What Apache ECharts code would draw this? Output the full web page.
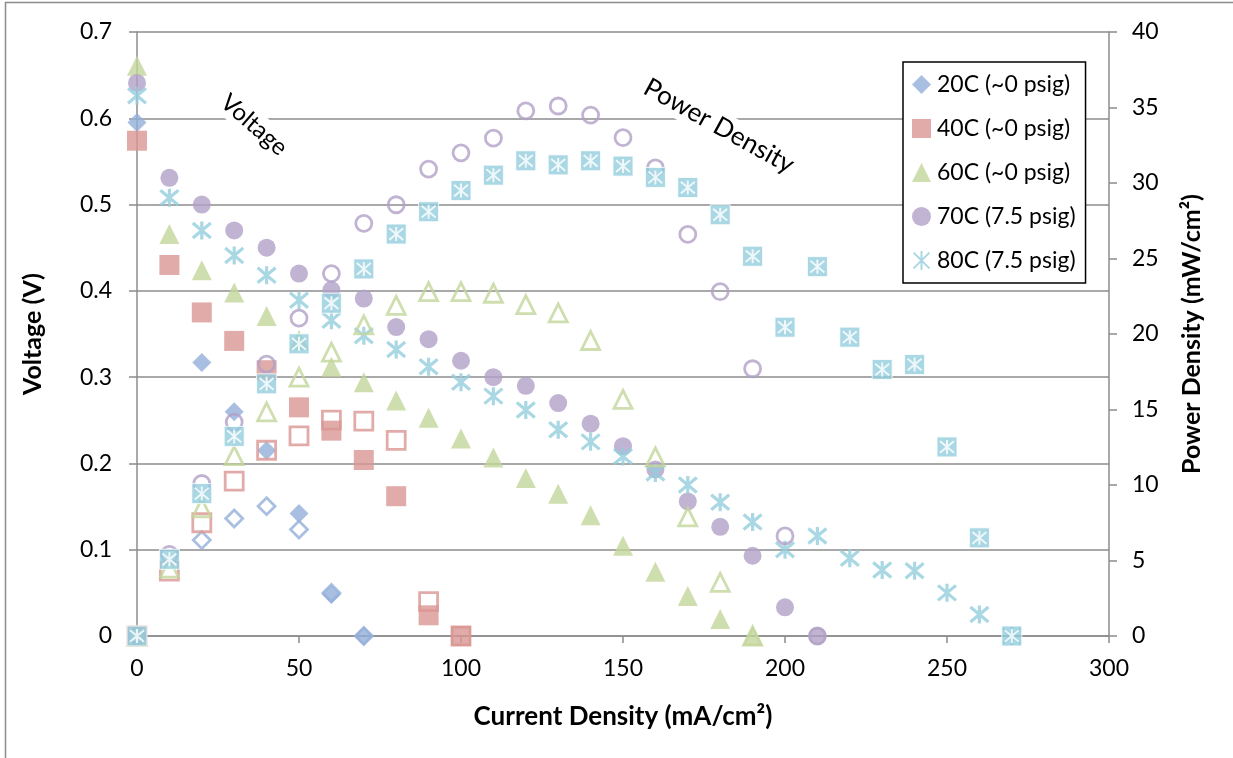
<!DOCTYPE html>
<html>
<head>
<meta charset="utf-8">
<script src="https://cdn.jsdelivr.net/npm/echarts@6/dist/echarts.min.js"></script>
<style>
html,body{margin:0;padding:0;background:#fff;}
#c{width:1233px;height:758px;}
</style>
</head>
<body>
<div id="c"></div>
<script>
// ---- data ----
var names = ['20C (~0 psig)', '40C (~0 psig)', '60C (~0 psig)', '70C (7.5 psig)', '80C (7.5 psig)'];

var current20 = [0, 20, 30, 40, 50, 60, 70];
var voltage20 = [0.595, 0.317, 0.260, 0.215, 0.142, 0.048, 0];
var power20 = [0, 6.35, 7.78, 8.6, 7.05, 2.85, 0];

var current40 = [0, 10, 20, 30, 40, 50, 60, 70, 80, 90, 100];
var voltage40 = [0.574, 0.430, 0.375, 0.342, 0.308, 0.265, 0.238, 0.204, 0.162, 0.024, 0];
var power40 = [0, 4.3, 7.5, 10.26, 12.3, 13.25, 14.3, 14.23, 12.96, 2.27, 0];

var current60 = [0, 10, 20, 30, 40, 50, 60, 70, 80, 90, 100, 110, 120, 130, 140, 150, 160, 170, 180, 190];
var voltage60 = [0.661, 0.466, 0.424, 0.398, 0.371, 0.343, 0.312, 0.294, 0.273, 0.253, 0.229, 0.207, 0.183, 0.165, 0.140, 0.1045, 0.0744, 0.0463, 0.0197, 0];
var power60 = [0, 4.5, 8.48, 11.94, 14.84, 17.15, 18.8, 20.6, 21.9, 22.8, 22.8, 22.7, 21.95, 21.4, 19.57, 15.67, 11.86, 7.89, 3.55, 0];

var current70 = [0, 10, 20, 30, 40, 50, 60, 70, 80, 90, 100, 110, 120, 130, 140, 150, 160, 170, 180, 190, 200, 210];
var voltage70 = [0.641, 0.531, 0.500, 0.470, 0.450, 0.420, 0.401, 0.391, 0.358, 0.344, 0.319, 0.300, 0.290, 0.270, 0.246, 0.220, 0.193, 0.156, 0.1265, 0.093, 0.0332, 0];
var power70 = [0, 5.4, 10.1, 14.17, 18.0, 21.05, 24.0, 27.33, 28.56, 30.92, 32.0, 32.97, 34.78, 35.1, 34.5, 33.0, 31.0, 26.6, 22.8, 17.7, 6.63, 0];

var current80 = [0, 10, 20, 30, 40, 50, 60, 70, 80, 90, 100, 110, 120, 130, 140, 150, 160, 170, 180, 190, 200, 210, 220, 230, 240, 250, 260, 270];
var voltage80 = [0.626, 0.508, 0.470, 0.441, 0.418, 0.389, 0.366, 0.348, 0.332, 0.312, 0.294, 0.278, 0.262, 0.239, 0.225, 0.208, 0.189, 0.175, 0.155, 0.132, 0.100, 0.116, 0.090, 0.0764, 0.0756, 0.050, 0.025, 0];
var power80 = [0, 5.08, 9.43, 13.22, 16.7, 19.35, 22.04, 24.31, 26.62, 28.1, 29.5, 30.52, 31.47, 31.2, 31.47, 31.12, 30.37, 29.7, 27.9, 25.15, 20.45, 24.46, 19.79, 17.65, 17.98, 12.52, 6.5, 0];

// ---- styling ----
var colors = ['#93AFD9', '#DA9694', '#C3D69B', '#B1A0C7', '#93CDDD'];
var FONT = 'Lato, "Open Sans", sans-serif';
var asterisk = 'path://M0,0L20,20M20,0L0,20M10,-2L10,22';

function pairs(xs, ys) {
  return xs.map(function (x, i) { return [x, ys[i]]; });
}

var voltageSets = [[current20, voltage20], [current40, voltage40], [current60, voltage60], [current70, voltage70], [current80, voltage80]];
var powerSets = [[current20, power20], [current40, power40], [current60, power60], [current70, power70], [current80, power80]];
var symbols = ['diamond', 'rect', 'triangle', 'circle', asterisk];
var sizes = [19, 20, 20, 18, 18];

var series = [];
voltageSets.forEach(function (s, i) {
  var isStar = i === 4;
  series.push({
    name: names[i],
    type: 'scatter',
    yAxisIndex: 0,
    symbol: symbols[i],
    symbolSize: sizes[i],
    data: pairs(s[0], s[1]),
    itemStyle: isStar ? { color: colors[i], borderColor: colors[i], borderWidth: 3.2 } : { color: colors[i], borderWidth: 0 },
    emphasis: { disabled: true },
    z: 3 + i
  });
});
powerSets.forEach(function (s, i) {
  if (i === 4) {
    series.push({
      name: 'P80a', type: 'scatter', yAxisIndex: 1, symbol: 'rect', symbolSize: 20,
      data: pairs(s[0], s[1]),
      itemStyle: { color: colors[i], borderColor: '#fff', borderWidth: 1 },
      emphasis: { disabled: true }, z: 20
    });
    series.push({
      name: 'P80b', type: 'scatter', yAxisIndex: 1, symbol: asterisk, symbolSize: 14,
      data: pairs(s[0], s[1]),
      itemStyle: { color: '#fff', borderColor: '#fff', borderWidth: 2 },
      emphasis: { disabled: true }, z: 21
    });
  } else {
    series.push({
      name: 'P' + i, type: 'scatter', yAxisIndex: 1, symbol: symbols[i], symbolSize: sizes[i] - 2,
      data: pairs(s[0], s[1]),
      itemStyle: { color: 'rgba(255,255,255,0)', borderColor: colors[i], borderWidth: 2.8 },
      emphasis: { disabled: true }, z: 10 + i
    });
  }
});

var axisGray = '#8C8C8C';
var labelStyle = { color: '#000', fontFamily: FONT, fontSize: 23 };
var nameStyle = { color: '#000', fontFamily: FONT, fontSize: 25, fontWeight: 'bold' };

var option = {
  animation: false,
  backgroundColor: '#fff',
  grid: { left: 137, right: 124, top: 32, bottom: 122, containLabel: false },
  legend: {
    data: names,
    orient: 'vertical',
    left: 903,
    top: 62,
    padding: [11, 10, 11, 9],
    itemGap: 21,
    itemWidth: 19,
    itemHeight: 19,
    borderColor: '#000',
    borderWidth: 1.5,
    backgroundColor: '#fff',
    textStyle: { color: '#000', fontFamily: FONT, fontSize: 23, padding: [0, 0, 0, 1] },
    selectedMode: false
  },
  xAxis: {
    type: 'value',
    min: 0, max: 300, interval: 50,
    name: 'Current Density (mA/cm²)',
    nameLocation: 'middle',
    nameGap: 68,
    nameTextStyle: Object.assign({}, nameStyle, { fontSize: 26 }),
    axisLine: { show: true, lineStyle: { color: axisGray, width: 1.5 } },
    axisTick: { show: true, length: 7, lineStyle: { color: axisGray, width: 1.5 } },
    axisLabel: Object.assign({ margin: 21 }, labelStyle),
    splitLine: { show: false }
  },
  yAxis: [{
    type: 'value',
    min: 0, max: 0.7, interval: 0.1,
    name: 'Voltage (V)',
    nameLocation: 'middle',
    nameGap: 92,
    nameRotate: 90,
    nameTextStyle: nameStyle,
    axisLine: { show: true, lineStyle: { color: axisGray, width: 1.5 } },
    axisTick: { show: true, length: 8, lineStyle: { color: axisGray, width: 1.5 } },
    axisLabel: Object.assign({ margin: 25, formatter: function (v) { return String(Math.round(v * 10) / 10); } }, labelStyle),
    splitLine: { show: true, lineStyle: { color: axisGray, width: 1.5 } }
  }, {
    type: 'value',
    position: 'right',
    min: 0, max: 40, interval: 5,
    name: 'Power Density (mW/cm²)',
    nameLocation: 'middle',
    nameGap: 70,
    nameRotate: 90,
    nameTextStyle: nameStyle,
    axisLine: { show: true, lineStyle: { color: axisGray, width: 1.5 } },
    axisTick: { show: true, length: 8, lineStyle: { color: axisGray, width: 1.5 } },
    axisLabel: Object.assign({ margin: 23 }, labelStyle),
    splitLine: { show: false }
  }],
  graphic: [
    { type: 'rect', silent: true, z: -10, shape: { x: 5.5, y: 2.5, width: 1400, height: 900 }, style: { fill: 'none', stroke: '#8C8C8C', lineWidth: 1.5 } },
    { type: 'text', silent: true, z: 50, x: 254, y: 125, rotation: -41 * Math.PI / 180,
      style: { text: 'Voltage', fontFamily: FONT, fontSize: 24, fill: '#000', align: 'center', verticalAlign: 'middle', backgroundColor: '#fff', padding: [2, 6] } },
    { type: 'text', silent: true, z: 50, x: 719, y: 126, rotation: -29 * Math.PI / 180,
      style: { text: 'Power Density', fontFamily: FONT, fontSize: 26, fill: '#000', align: 'center', verticalAlign: 'middle', backgroundColor: '#fff', padding: [2, 6] } }
  ],
  series: series
};

var chart = echarts.init(document.getElementById('c'), null, { renderer: 'canvas' });
chart.setOption(option);
</script>
</body>
</html>
